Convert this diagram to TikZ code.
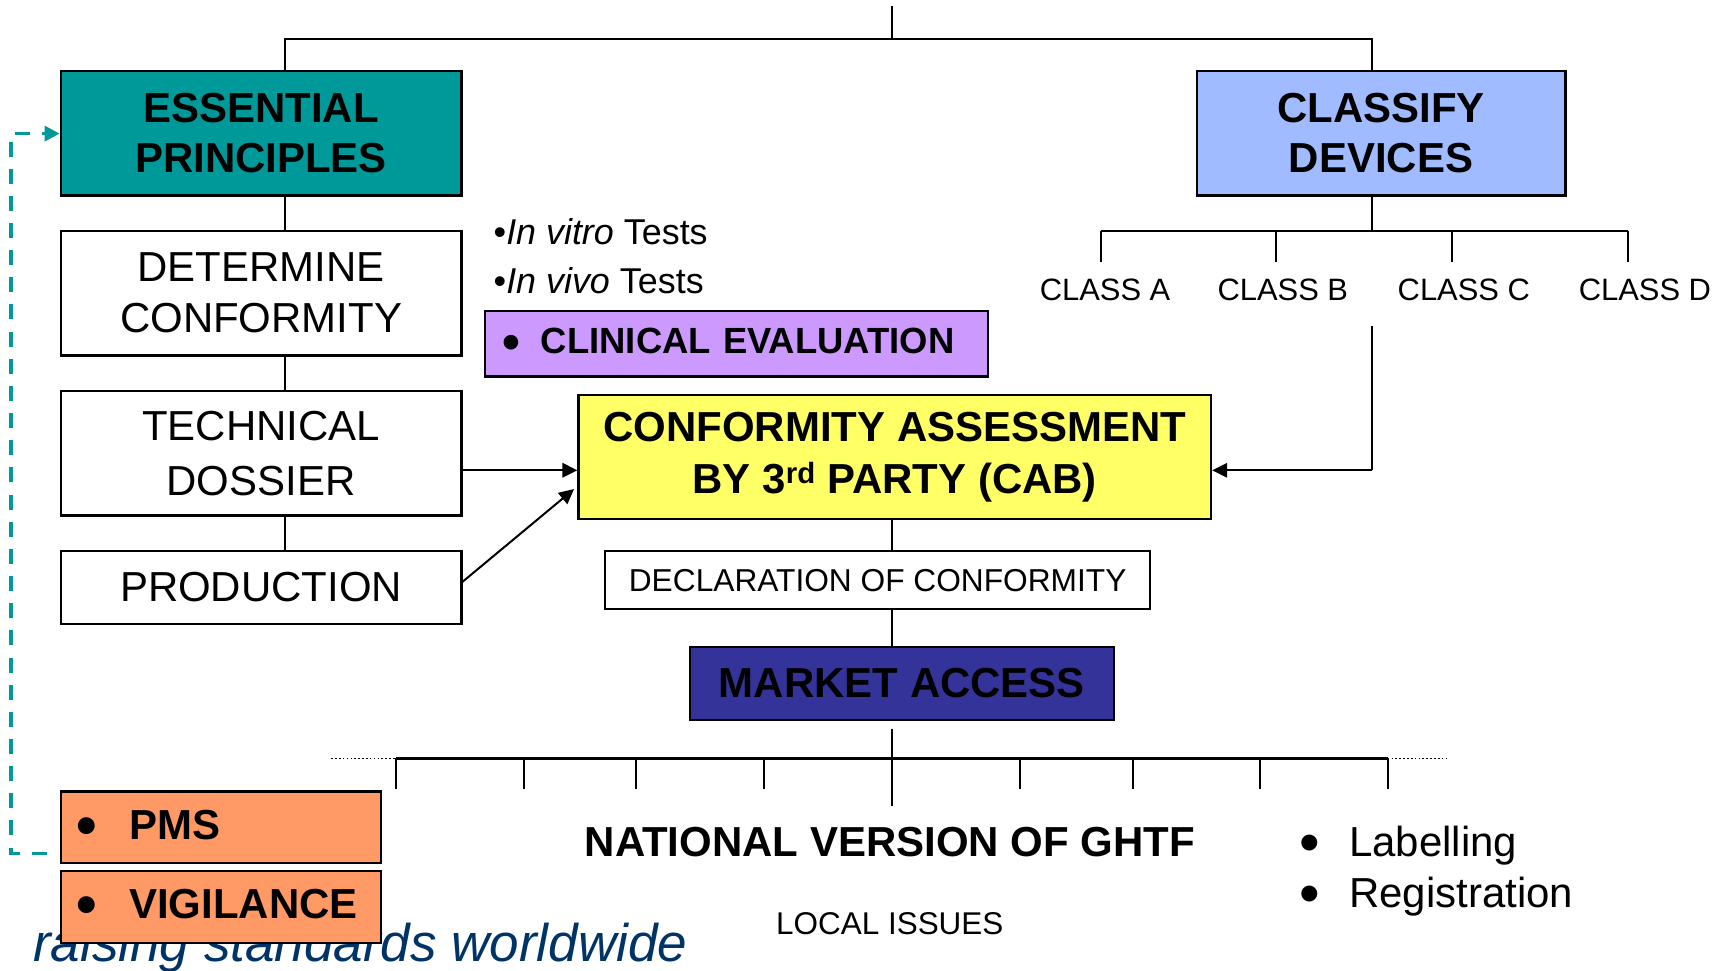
\documentclass[tikz,border=0pt]{standalone}
\usepackage{graphicx}
\usepackage{fontspec}
\setmainfont{Liberation Sans}
\usetikzlibrary{arrows.meta,calc}
\definecolor{epteal}{HTML}{009999}
\definecolor{cdblue}{HTML}{A0BBFF}
\definecolor{celav}{HTML}{CC99FF}
\definecolor{cayel}{HTML}{FFFF66}
\definecolor{madark}{HTML}{333399}
\definecolor{pmsor}{HTML}{FF9966}
\definecolor{slogan}{HTML}{003366}
\newcommand{\mybul}{\raisebox{-0.144em}{\scalebox{1.4}{•}}}
\begin{document}
\begin{tikzpicture}[x=1pt,y=-1pt,
  box/.style={draw=black, line width=2pt, inner sep=0pt, anchor=north west, align=center},
  fbig/.style={font=\fontsize{38}{46}\selectfont},
  fbigb/.style={font=\fontsize{38}{46}\selectfont\bfseries},
  conn/.style={line width=2pt},
  arr/.style={line width=1.8pt, -{Triangle[length=13.5pt,width=13pt]}},
  tick/.style={line width=2pt},
]
\useasboundingbox (0,0) rectangle (1568,879);

% slogan (behind boxes)
\node[anchor=base west, inner sep=0pt, text=slogan, font=\fontsize{48}{56}\selectfont\itshape] (slog) at (30,871) {raising standards worldwide};

% left column
\node[box, fill=epteal, minimum width=363pt, minimum height=113pt, fbigb] (ep) at (54,63) {ESSENTIAL\\PRINCIPLES};
\node[box, fill=white, minimum width=363pt, minimum height=113pt, fbig] (dc) at (54,208) {DETERMINE\\CONFORMITY};
\node[box, fill=white, minimum width=363pt, minimum height=113pt, font=\fontsize{38}{50}\selectfont] (td) at (54,353) {TECHNICAL\\DOSSIER};
\node[box, fill=white, minimum width=363pt, minimum height=66pt, fbig] (pr) at (54,498) {PRODUCTION};

% right top
\node[box, fill=cdblue, minimum width=334pt, minimum height=113pt, fbigb] (cd) at (1083,63) {CLASSIFY\\DEVICES};

% tests text
\node[anchor=base west, inner sep=0pt, align=left, font=\fontsize{32.5}{44}\selectfont] (tests) at (447,265.6) {•\textit{In vitro} Tests\\•\textit{In vivo} Tests};

% clinical evaluation
\node[box, fill=celav, inner xsep=15.9pt, text width=424.2pt, minimum height=59pt, align=left, font=\fontsize{33}{40}\selectfont\bfseries] (ce) at (438,281) {\mybul\hspace{18.9pt}CLINICAL EVALUATION};

% conformity assessment
\node[box, fill=cayel, minimum width=573pt, minimum height=112pt, font=\fontsize{38}{47}\selectfont\bfseries] (ca) at (523,357) {CONFORMITY ASSESSMENT\\BY 3\textsuperscript{rd} PARTY (CAB)};

% declaration
\node[box, fill=white, minimum width=494pt, minimum height=53pt, font=\fontsize{28.7}{34}\selectfont] (doc) at (547,498) {DECLARATION OF CONFORMITY};

% market access
\node[box, fill=madark, minimum width=384pt, minimum height=66pt, fbigb] (ma) at (624,585) {MARKET ACCESS};

% PMS / vigilance
\node[box, fill=pmsor, inner xsep=14.7pt, text width=260.6pt, minimum height=65pt, align=left, fbigb] (pms) at (54,716) {\mybul\hspace{28.7pt}PMS};
\node[box, fill=pmsor, inner xsep=14.7pt, text width=260.6pt, minimum height=65pt, align=left, fbigb] (vig) at (54,788) {\mybul\hspace{28.7pt}VIGILANCE};

% class labels
\node[font=\fontsize{28}{34}\selectfont, inner sep=0pt] (clA) at (1001,263) {CLASS A};
\node[font=\fontsize{28}{34}\selectfont, inner sep=0pt] (clB) at (1162,263) {CLASS B};
\node[font=\fontsize{28}{34}\selectfont, inner sep=0pt] (clC) at (1326,263) {CLASS C};
\node[font=\fontsize{28}{34}\selectfont, inner sep=0pt] (clD) at (1490,263) {CLASS D};

% bottom texts
\node[inner sep=0pt, fbigb] (nat) at (806,763) {NATIONAL VERSION OF GHTF};
\node[inner sep=0pt, font=\fontsize{28.5}{34}\selectfont] (loc) at (806,837) {LOCAL ISSUES};
\node[anchor=base west, inner sep=0pt, align=left, fbig] (lab) at (1176.7,821.6) {\mybul\hspace{26.7pt}Labelling\\\mybul\hspace{26.7pt}Registration};

% coordinates
\coordinate (x258) at (258,0);
\coordinate (x808) at (808,0);
\coordinate (x1243) at (1243,0);
\coordinate (top) at (808,5);
\coordinate (t1) at (808,35);
\coordinate (yarr) at (0,426);
\coordinate (cbar) at (0,209);
\coordinate (clsup) at (1243,295);
\coordinate (mend) at (808,730);
\coordinate (pmsend) at (43,773);

% top tree
\draw[conn] (top) -- (t1);
\draw[conn] (x258 |- ep.north) -- (x258 |- t1) -- (x1243 |- t1) -- (x1243 |- cd.north);

% left chain
\draw[conn] (x258 |- ep.south) -- (x258 |- dc.north);
\draw[conn] (x258 |- dc.south) -- (x258 |- td.north);
\draw[conn] (x258 |- td.south) -- (x258 |- pr.north);

% classify tree
\draw[conn] (x1243 |- cd.south) -- (x1243 |- cbar);
\draw[conn] (997,209) -- (1475,209);
\foreach \xx in {997,1156,1315,1475} \draw[tick] (\xx,209) -- (\xx,237);

% arrows into CA
\draw[arr] (td.east |- yarr) -- (ca.west |- yarr);
\draw[arr] ($(pr.east)+(0,-5)$) -- ($(ca.west)+(-3,29)$);
\draw[line width=1.8pt] (clsup) -- (x1243 |- yarr);
\draw[arr] (x1243 |- yarr) -- (ca.east |- yarr);

% CA -> DoC -> MA
\draw[conn] (x808 |- ca.south) -- (x808 |- doc.north);
\draw[conn] (x808 |- doc.south) -- (x808 |- ma.north);
\draw[conn] ($(x808 |- ma.south)+(0,7)$) -- (mend);

% national bar
\draw[line width=3pt] (359,687) -- (1257,687);
\draw[dotted, line width=1.5pt] (300,687) -- (359,687);
\draw[dotted, line width=1.5pt] (1257,687) -- (1313,687);
\foreach \xx in {359,475,576,692,924,1026,1141,1257} \draw[tick] (\xx,687) -- (\xx,715);

% feedback dashed
\draw[epteal, line width=3pt, dash pattern=on 13.6pt off 11pt, -{Triangle[length=13.5pt,width=13.5pt]}] (pmsend) -- (10,773) -- (10,121) -- (ep.west |- 0,121);
\end{tikzpicture}
\end{document}
